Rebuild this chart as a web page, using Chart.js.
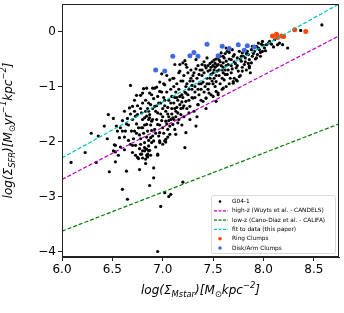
<!DOCTYPE html>
<html>
<head>
<meta charset="utf-8">
<script src="https://cdn.jsdelivr.net/npm/chart.js@4.4.1/dist/chart.umd.min.js"></script>
<style>
  html, body { margin: 0; padding: 0; background: #fff; }
  #wrap { width: 344px; height: 313px; }
</style>
</head>
<body>
<div id="wrap"><canvas id="c" width="344" height="313"></canvas></div>
<script>
// G04-1 pixels: [log Sigma_Mstar, log Sigma_SFR]
const galaxyPoints = [
  [5.99,-1.60],[6.09,-2.38],[6.23,-2.20],[6.34,-2.38],[6.36,-1.90],[6.29,-1.85],
  [6.46,-1.51],[6.51,-1.58],[6.54,-1.72],[6.55,-1.81],[6.57,-1.93],[6.52,-2.06],[6.53,-2.19],[6.56,-2.25],
  [6.53,-2.37],[6.47,-2.55],[6.60,-1.62],[6.60,-1.81],[6.63,-1.81],[6.60,-2.87],[6.64,-2.54],[6.65,-3.05],
  [6.51,-2.17],[6.53,-2.07],[6.45,-1.95],[6.42,-1.72],
  [6.68,-0.98],[6.70,-1.36],[6.67,-1.39],[6.65,-1.58],[6.69,-1.81],[6.72,-1.81],[6.73,-1.54],[6.75,-1.51],
  [6.79,-1.48],[6.74,-1.16],[6.78,-1.16],[6.76,-1.75],[6.79,-1.75],[6.68,-2.05],[6.70,-2.07],[6.73,-2.07],
  [6.77,-2.13],[6.79,-2.23],[6.75,-2.29],[6.78,-2.23],[6.76,-2.31],[6.77,-2.51],[6.80,-2.17],[6.66,-1.70],
  [6.71,-1.95],[6.74,-1.68],[6.77,-1.88],[6.80,-1.30],[6.72,-1.25],[6.80,-1.75],[6.68,-1.50],[6.62,-1.45],
  [6.81,-1.04],[6.82,-1.57],[6.84,-1.69],[6.85,-1.81],[6.87,-1.51],[6.88,-1.93],[6.87,-1.12],[6.89,-1.15],
  [6.86,-1.30],[6.88,-1.33],[6.83,-1.45],[6.84,-1.54],[6.87,-1.57],[6.89,-1.63],[6.82,-2.11],[6.84,-2.14],
  [6.85,-2.23],[6.87,-2.16],[6.89,-2.02],[6.83,-2.32],[6.83,-2.40],[6.87,-2.80],[6.82,-2.17],[6.86,-2.17],
  [6.84,-2.25],[6.85,-2.28],[6.81,-1.85],[6.86,-1.98],[6.89,-1.80],[6.83,-1.25],[6.85,-1.40],[6.90,-1.60],
  [6.88,-1.70],
  [6.92,-1.03],[6.94,-1.01],[6.95,-1.18],[6.92,-1.36],[6.92,-1.78],[6.95,-1.69],[6.97,-1.84],[6.91,-1.99],
  [6.91,-2.48],[6.91,-2.66],[6.95,-2.25],[6.97,-2.02],[6.97,-1.99],[6.95,-2.23],[6.98,-3.18],[6.95,-4.00],
  [6.99,-0.77],[6.93,-1.45],[6.96,-1.30],[6.98,-1.50],[6.91,-1.22],[6.94,-1.60],[6.99,-1.10],[6.97,-0.92],
  [6.96,-1.90],[6.93,-2.10],
  [7.00,-1.75],[7.03,-1.63],[7.07,-1.72],[7.10,-1.57],[7.02,-1.99],[7.00,-2.05],[7.07,-1.87],[7.05,-1.78],
  [7.03,-1.96],[7.10,-1.69],[7.03,-2.01],[7.02,-2.93],[7.06,-3.00],[7.08,-2.96],[7.01,-0.95],[7.04,-1.10],
  [7.06,-1.25],[7.02,-1.35],[7.08,-1.05],[7.09,-1.40],[7.05,-1.50],[7.01,-1.20],[7.07,-0.88],[7.04,-0.80],
  [7.09,-1.18],[7.00,-1.55],[7.06,-1.62],
  [7.13,-1.45],[7.15,-1.66],[7.17,-1.33],[7.18,-1.51],[7.12,-1.78],[7.13,-1.87],[7.20,-2.74],[7.17,-0.60],
  [7.11,-0.85],[7.14,-0.95],[7.16,-1.05],[7.19,-1.15],[7.12,-1.20],[7.15,-1.25],[7.18,-0.90],[7.11,-1.00],
  [7.14,-1.38],[7.19,-1.70],[7.16,-0.75],[7.13,-1.10],[7.19,-1.28],[7.11,-1.60],
  [7.20,-1.39],[7.23,-1.27],[7.27,-1.36],[7.22,-0.53],[7.23,-1.84],[7.22,-2.11],[7.21,-0.80],[7.24,-0.95],
  [7.26,-1.05],[7.28,-0.85],[7.22,-1.10],[7.25,-1.15],[7.29,-1.20],[7.21,-1.55],[7.26,-1.48],[7.28,-0.70],
  [7.24,-0.65],[7.27,-1.60],[7.23,-1.00],[7.29,-0.98],[7.20,-0.90],
  [7.30,-1.21],[7.31,-1.45],[7.35,-1.33],[7.36,-1.15],[7.33,-1.72],[7.33,-0.51],[7.31,-0.75],[7.34,-0.85],
  [7.36,-0.95],[7.38,-1.05],[7.32,-1.00],[7.37,-0.70],[7.39,-0.80],[7.30,-0.90],[7.35,-0.62],[7.38,-1.25],
  [7.32,-1.10],[7.39,-0.60],[7.34,-1.55],
  [7.40,-1.27],[7.43,-1.21],[7.46,-1.12],[7.43,-0.66],[7.45,-0.62],[7.47,-0.58],[7.49,-0.55],[7.41,-0.75],
  [7.44,-0.85],[7.46,-0.95],[7.48,-0.78],[7.42,-1.00],[7.45,-1.05],[7.49,-0.90],[7.41,-0.55],[7.47,-0.70],
  [7.44,-0.48],[7.48,-1.15],[7.40,-0.92],[7.43,-1.40],
  [7.50,-1.18],[7.53,-1.27],[7.55,-1.15],[7.53,-0.91],[7.53,-1.09],[7.51,-0.52],[7.53,-0.50],[7.55,-0.47],
  [7.57,-0.45],[7.58,-0.39],[7.52,-0.65],[7.54,-0.72],[7.56,-0.80],[7.58,-0.62],[7.51,-0.85],[7.57,-0.95],
  [7.59,-0.70],[7.55,-0.60],[7.52,-1.00],[7.59,-1.05],[7.50,-0.75],
  [7.61,-0.48],[7.63,-0.54],[7.60,-0.57],[7.65,-0.60],[7.68,-0.51],[7.70,-0.45],[7.63,-0.30],[7.66,-0.38],
  [7.69,-0.33],[7.62,-0.70],[7.64,-0.78],[7.67,-0.85],[7.69,-0.68],[7.61,-0.88],[7.66,-0.95],[7.70,-0.91],
  [7.63,-1.00],[7.68,-0.75],[7.60,-0.65],
  [7.71,-0.42],[7.74,-0.48],[7.78,-0.54],[7.73,-0.66],[7.79,-0.39],[7.76,-0.36],[7.72,-0.58],[7.75,-0.72],
  [7.77,-0.80],[7.71,-0.85],[7.79,-0.65],[7.74,-0.90],[7.78,-0.45],
  [7.81,-0.60],[7.86,-0.51],[7.88,-0.57],[7.89,-0.45],[7.84,-0.36],[7.88,-0.33],[7.89,-0.27],[7.86,-0.63],
  [7.83,-0.70],[7.82,-0.48],[7.85,-0.42],[7.87,-0.75],
  [7.91,-0.36],[7.93,-0.27],[7.95,-0.21],[7.94,-0.42],[7.96,-0.33],[7.98,-0.23],[7.99,-0.18],[7.99,-0.36],
  [7.92,-0.50],[7.97,-0.45],
  [8.01,-0.30],[8.03,-0.24],[8.05,-0.21],[8.06,-0.18],[8.08,-0.23],[8.11,-0.15],[8.14,-0.24],[8.16,-0.21],
  [8.19,-0.24],[8.24,-0.30],[8.37,0.02],[8.58,0.12],[8.02,-0.35],[8.10,-0.28],
  // denser core
  [6.80,-1.12],[6.84,-1.03],[6.90,-1.03],[6.97,-1.09],[7.02,-0.97],[7.10,-0.85],[7.17,-0.72],[7.23,-0.60],
  [7.12,-0.60],[7.20,-0.57],[7.73,-0.88],[7.70,-0.94],[7.60,-1.03],[7.55,-1.12],[7.43,-1.21],[7.35,-1.33],
  [7.86,-0.66],[7.93,-0.48],[7.79,-0.72],[7.76,-0.82],
  [7.50,-0.62],[7.52,-0.58],[7.56,-0.52],[7.60,-0.45],[7.62,-0.40],[7.64,-0.36],
  [6.86,-1.45],[6.90,-1.40],[6.94,-1.35],[6.98,-1.30],[7.02,-1.25],[7.05,-1.38],[7.08,-1.30],[7.11,-1.30],
  [7.14,-1.20],[7.17,-1.18],[7.20,-1.20],[7.23,-1.12],[7.26,-1.25],[7.29,-1.05],[7.32,-1.20],[7.35,-1.05],
  [7.38,-0.95],[7.41,-1.10],[7.44,-0.95],[7.47,-0.85],[7.50,-0.95],[7.53,-0.80],[7.56,-0.70],[7.59,-0.85],
  [7.62,-0.78],[7.65,-0.70],[7.68,-0.62],[7.71,-0.55],[7.74,-0.62],[7.77,-0.50],
  [6.95,-1.48],[6.99,-1.62],[7.03,-1.45],[7.06,-1.55],[7.09,-1.50],[7.12,-1.40],[7.15,-1.48],[7.18,-1.40],
  [7.21,-1.35],[7.24,-1.40],[7.00,-1.40],[7.04,-1.68],[7.08,-1.60],[7.13,-1.55],[7.16,-1.60],[7.25,-0.75],
  [7.27,-0.90],[7.30,-0.80],[7.33,-0.68],[7.36,-0.78],[7.39,-0.70],[7.42,-0.62],[7.45,-0.72],[7.48,-0.65],
  [7.51,-0.70],[7.54,-0.62],[7.57,-0.55],[7.60,-0.75],[7.63,-0.62],[7.66,-0.50],
  [6.75,-1.35],[6.78,-1.40],[6.72,-1.45],[6.70,-1.60],[6.74,-1.85],[6.78,-1.95],[6.82,-1.70],[6.86,-1.60],
  [6.80,-1.60],[6.90,-1.90],[6.78,-2.05],[6.82,-2.02],[6.86,-2.08],[6.88,-2.25],[6.80,-2.30],[6.84,-1.92],
  [6.93,-1.85],[6.97,-1.70],[7.01,-1.85],[7.05,-1.92],
  [6.64,-1.68],[6.62,-1.92],[6.58,-1.75],[6.66,-1.98],[6.70,-2.20],[6.73,-2.25],[6.62,-2.15],[6.58,-2.10],
  [7.82,-0.55],[7.85,-0.58],[7.90,-0.40],[7.95,-0.30],[7.97,-0.38],[8.00,-0.25],[7.80,-0.45],[7.83,-0.40]
];

const ringClumps = [
  [8.09,-0.08],[8.13,-0.05],[8.14,-0.11],[8.18,-0.08],[8.20,-0.09],[8.31,0.03],[8.42,0.00]
];

const diskArmClumps = [
  [6.93,-0.70],[7.02,-0.72],[7.10,-0.45],[7.27,-0.44],[7.31,-0.38],[7.35,-0.45],[7.44,-0.23],
  [7.55,-0.44],[7.59,-0.27],[7.66,-0.31],[7.75,-0.24],[7.81,-0.34],[7.84,-0.26],[7.91,-0.28]
];

// relation end points over the axis range
const lineX = [6.0, 8.75];
const highZ = [-2.69, -0.08];
const lowZ = [-3.63, -1.68];
const fitLine = [-2.30, 0.50];

const xTicks = [6.0, 6.5, 7.0, 7.5, 8.0, 8.5];
const yTicks = [-4, -3, -2, -1, 0];

const toXY = arr => arr.map(p => ({ x: p[0], y: p[1] }));
const toLine = ys => lineX.map((x, i) => ({ x: x, y: ys[i] }));

const FONT = "'DejaVu Sans', sans-serif";

// draws text pieces with sub/superscripts, centered at (cx, cy)
function drawRich(ctx, parts, cx, cy, size) {
  const fontFor = p => 'italic ' + (p.sub || p.sup ? size * 0.7 : size) + 'px ' + FONT;
  let total = 0;
  parts.forEach(p => { ctx.font = fontFor(p); total += ctx.measureText(p.t).width; });
  let x = cx - total / 2;
  ctx.textBaseline = 'middle';
  ctx.textAlign = 'left';
  parts.forEach(p => {
    ctx.font = fontFor(p);
    let dy = 0;
    if (p.sub) dy = size * 0.3;
    if (p.sup) dy = -size * 0.4;
    ctx.fillText(p.t, x, cy + dy);
    x += ctx.measureText(p.t).width;
  });
}

const framePlugin = {
  id: 'frame',
  afterDraw(chart) {
    const ctx = chart.ctx;
    const a = chart.chartArea;
    ctx.save();
    ctx.strokeStyle = '#222';
    ctx.lineWidth = 1;
    ctx.strokeRect(a.left + 0.5, a.top + 0.5, a.right - a.left - 1, a.bottom - a.top - 1);

    // axis titles
    ctx.fillStyle = '#000';
    drawRich(ctx, [
      { t: 'log(Σ' }, { t: 'Mstar', sub: true }, { t: ')[M' }, { t: '⊙', sub: true },
      { t: 'kpc' }, { t: '−2', sup: true }, { t: ']' }
    ], (a.left + a.right) / 2, 291, 12);
    ctx.save();
    ctx.translate(9, (a.top + a.bottom) / 2);
    ctx.rotate(-Math.PI / 2);
    drawRich(ctx, [
      { t: 'log(Σ' }, { t: 'SFR', sub: true }, { t: ')[M' }, { t: '⊙', sub: true },
      { t: 'yr' }, { t: '−1', sup: true }, { t: 'kpc' }, { t: '−2', sup: true }, { t: ']' }
    ], 0, 0, 12);
    ctx.restore();

    // legend
    const lx = 211, ly = 195, lw = 124, lh = 58;
    ctx.fillStyle = 'rgba(255,255,255,0.85)';
    ctx.strokeStyle = '#d0d0d0';
    ctx.lineWidth = 0.8;
    ctx.beginPath();
    ctx.roundRect(lx + 0.5, ly + 0.5, lw, lh, 2);
    ctx.fill();
    ctx.stroke();
    const entries = [
      { label: 'G04-1', type: 'dot', color: '#000', r: 1.3 },
      { label: 'high-z (Wuyts et al. - CANDELS)', type: 'line', color: '#bf00bf' },
      { label: 'low-z (Cano-Diaz et al. - CALIFA)', type: 'line', color: '#008000' },
      { label: 'fit to data (this paper)', type: 'line', color: '#00bfbf' },
      { label: 'Ring Clumps', type: 'dot', color: '#ff4500', r: 1.8 },
      { label: 'Disk/Arm Clumps', type: 'dot', color: '#4169e1', r: 1.8 }
    ];
    ctx.font = '5.8px ' + FONT;
    ctx.textBaseline = 'middle';
    ctx.textAlign = 'left';
    entries.forEach((e, i) => {
      const y = ly + 6.5 + i * 9.3;
      if (e.type === 'dot') {
        ctx.fillStyle = e.color;
        ctx.beginPath();
        ctx.arc(220, y, e.r, 0, Math.PI * 2);
        ctx.fill();
      } else {
        ctx.strokeStyle = e.color;
        ctx.lineWidth = 1.2;
        ctx.setLineDash([3, 1.5]);
        ctx.beginPath();
        ctx.moveTo(214, y);
        ctx.lineTo(228, y);
        ctx.stroke();
        ctx.setLineDash([]);
      }
      ctx.fillStyle = '#000';
      ctx.fillText(e.label, 232, y);
    });
    ctx.restore();
  }
};

const lineStyle = color => ({
  type: 'line',
  borderColor: color,
  borderWidth: 1.2,
  borderDash: [4, 2],
  pointRadius: 0,
  fill: false,
  order: 0
});

new Chart(document.getElementById('c'), {
  type: 'scatter',
  data: {
    datasets: [
      { label: 'G04-1', data: toXY(galaxyPoints), backgroundColor: '#000', borderWidth: 0, pointRadius: 1.6, order: 3, clip: 0 },
      { label: 'high-z (Wuyts et al. - CANDELS)', data: toLine(highZ), ...lineStyle('#bf00bf') },
      { label: 'low-z (Cano-Diaz et al. - CALIFA)', data: toLine(lowZ), ...lineStyle('#008000') },
      { label: 'fit to data (this paper)', data: toLine(fitLine), ...lineStyle('#00bfbf') },
      { label: 'Ring Clumps', data: toXY(ringClumps), backgroundColor: '#ff4500', borderWidth: 0, pointRadius: 2.5, order: 1, clip: 0 },
      { label: 'Disk/Arm Clumps', data: toXY(diskArmClumps), backgroundColor: '#4169e1', borderWidth: 0, pointRadius: 2.5, order: 2, clip: 0 }
    ]
  },
  options: {
    responsive: false,
    animation: false,
    devicePixelRatio: 1,
    layout: { padding: { top: 3, right: 5, left: 0, bottom: 0 } },
    plugins: { legend: { display: false }, tooltip: { enabled: false } },
    scales: {
      x: {
        type: 'linear',
        min: 6.0,
        max: 8.75,
        afterBuildTicks: s => { s.ticks = xTicks.map(v => ({ value: v })); },
        afterFit: s => { s.height = 56; s.paddingLeft = 0; s.paddingRight = 0; },
        border: { display: true, color: '#222', width: 1 },
        grid: { drawOnChartArea: false, drawTicks: true, tickLength: 4, color: '#222' },
        ticks: { color: '#000', font: { family: FONT, size: 12 }, padding: 2, maxRotation: 0,
          callback: v => v.toFixed(1) }
      },
      y: {
        type: 'linear',
        min: -4.1,
        max: 0.5,
        afterBuildTicks: s => { s.ticks = yTicks.map(v => ({ value: v })); },
        afterFit: s => { s.width = 62; s.paddingTop = 0; s.paddingBottom = 0; },
        border: { display: true, color: '#222', width: 1 },
        grid: { drawOnChartArea: false, drawTicks: true, tickLength: 4, color: '#222' },
        ticks: { color: '#000', font: { family: FONT, size: 12 }, padding: 2,
          callback: v => (v < 0 ? '−' + Math.abs(v) : String(v)) }
      }
    }
  },
  plugins: [framePlugin]
});
</script>
</body>
</html>
